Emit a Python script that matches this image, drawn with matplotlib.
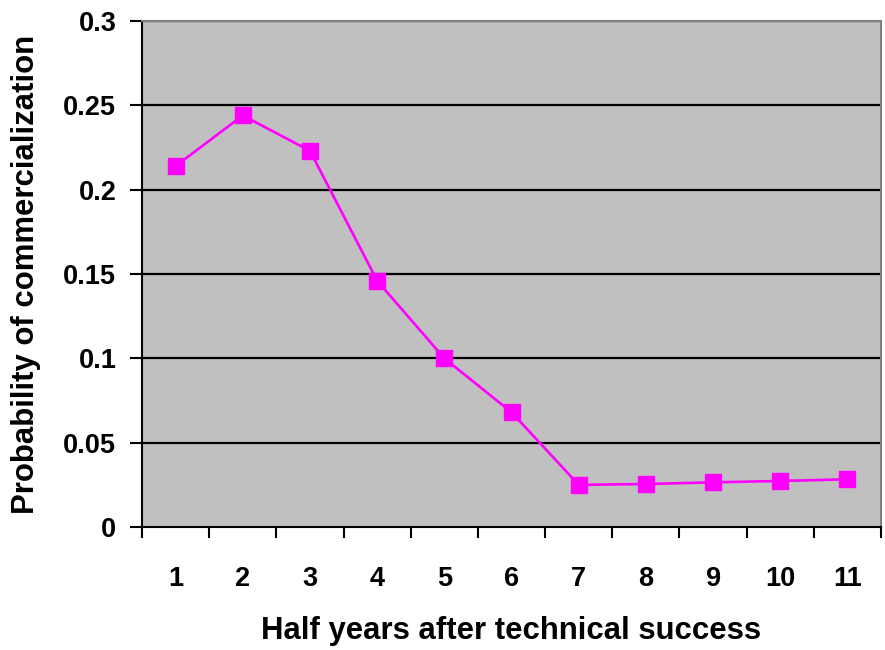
import numpy as np
import matplotlib.pyplot as plt

# ----------------------------------------------------------
# Data
# ----------------------------------------------------------

half_years = ["1", "2", "3", "4", "5", "6", "7", "8", "9", "10", "11"]
probability = [0.214, 0.244, 0.223, 0.146, 0.100, 0.068,
               0.025, 0.0255, 0.0265, 0.0273, 0.0283]
y_ticks = [0, 0.05, 0.1, 0.15, 0.2, 0.25, 0.3]
y_tick_labels = ["0", "0.05", "0.1", "0.15", "0.2", "0.25", "0.3"]

# ----------------------------------------------------------
# Plotting
# ----------------------------------------------------------

plt.rcParams['font.family'] = ['Liberation Sans', 'DejaVu Sans']
plt.rcParams['font.weight'] = 'bold'

fig = plt.figure(figsize=(8.85, 6.5), dpi=100)
ax = fig.add_axes([0.1605, 0.1892, 0.835, 0.7785])
ax.set_facecolor("#C0C0C0")

x = np.arange(len(half_years))
ax.plot(x, probability, color="#FF00FF", linewidth=1.9,
        marker="s", markersize=11.5, markeredgecolor="#FF00FF",
        zorder=3)

ax.set_xlim(-0.5, len(half_years) - 0.5)
ax.set_ylim(0, 0.3)

# gridlines
for yv in y_ticks[1:]:
    ax.axhline(yv, color="black", linewidth=1.6, zorder=1)

ax.set_yticks(y_ticks)
ax.set_yticklabels(y_tick_labels, fontsize=19.5, fontweight="bold")

# category labels centred, ticks between categories
ax.set_xticks(x)
ax.set_xticklabels(half_years, fontsize=19.5, fontweight="bold")
ax.tick_params(axis="x", which="major", length=0, pad=28)
ax.set_xticks(np.arange(-0.5, len(half_years)), minor=True)
ax.tick_params(axis="x", which="minor", length=8, width=1.5,
               direction="out", color="black")
ax.tick_params(axis="y", length=8.5, width=1.5, direction="out", pad=10)

for side in ["left", "bottom"]:
    ax.spines[side].set_color("black")
    ax.spines[side].set_linewidth(1.5)
for side in ["top", "right"]:
    ax.spines[side].set_color("#808080")
    ax.spines[side].set_linewidth(1.5)

ax.set_xlabel("Half years after technical success", fontsize=22.4,
              fontweight="bold")
ax.set_ylabel("Probability of commercialization", fontsize=22.4,
              fontweight="bold")
ax.xaxis.set_label_coords(0.5, -0.176)
ax.yaxis.set_label_coords(-0.137, 0.5)

fig.savefig("out.png", dpi=100)
